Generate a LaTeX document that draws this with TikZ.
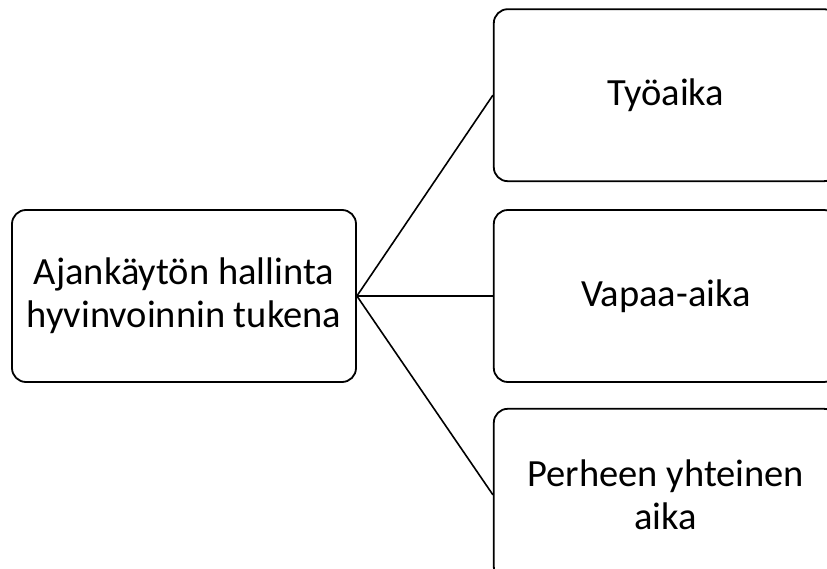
\documentclass[tikz,border=0pt]{standalone}
\usepackage{fontspec}
\setmainfont{Carlito}
\usetikzlibrary{positioning}
\tikzset{
  rect1/.style = {
    shape = rectangle,
    draw = black,
    line width = 1.8pt,
    rounded corners = 14pt,
    align = center,
    minimum width = 344pt,
    minimum height = 172pt,
    inner sep = 0pt,
    font = \fontsize{38.5}{43}\selectfont,
  }
}
\tikzset{
  line1/.style = {
    draw = black, line width = 1.6pt,
  }
}

\begin{document}
\begin{tikzpicture}[x = 1pt, y = 1pt]
        \clip (0, 0) rectangle (827, -569);
        \node[rect1](1) at (184, -296){Ajankäytön hallinta\\hyvinvoinnin tukena};
        \node[rect1, right=136pt of 1](3){Vapaa-aika};
        \node[rect1, above=27pt of 3](2){Työaika};
        \node[rect1, below=25pt of 3](4){Perheen yhteinen\\aika};
        \draw[line1](1.east) -- (2.west);
        \draw[line1](1.east) -- (3.west);
        \draw[line1](1.east) -- (4.west);
    \end{tikzpicture}
\end{document}
